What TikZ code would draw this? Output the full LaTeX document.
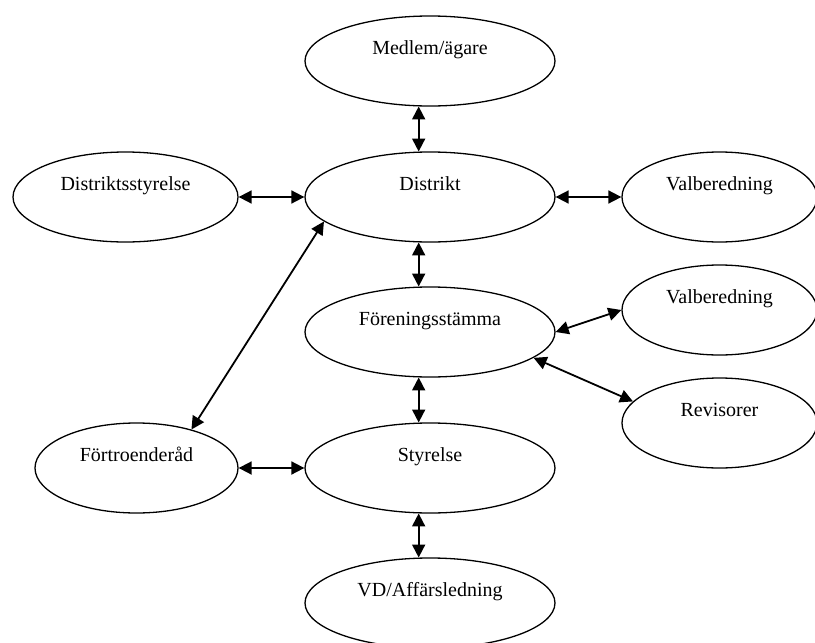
\documentclass[tikz,border=0pt]{standalone}
\usepackage{fontspec}
\setmainfont{Liberation Serif}
\usetikzlibrary{shapes.geometric,arrows.meta}

\begin{document}
\begin{tikzpicture}[x=1pt,y=-1pt,
        blob/.style={ellipse,draw,line width=1.3pt,inner sep=0pt,minimum width=250pt,minimum height=90pt,
            font=\fontsize{20}{24}\selectfont,text height=13pt,text depth=26pt},
        link/.style={{Triangle[length=13pt,width=13pt]}-{Triangle[length=13pt,width=13pt]},line width=1.8pt}]
        \useasboundingbox (0,0) rectangle (815,643);
        \clip (0,0) rectangle (815,643);
        % middle column
        \node[blob] (medlem) at (430,61) {Medlem/ägare};
        \node[blob] (distrikt) at (430,197) {Distrikt};
        \node[blob] (stamma) at (430,332) {Föreningsstämma};
        \node[blob] (styrelse) at (430,468) {Styrelse};
        \node[blob] (vd) at (430,603) {VD/Affärsledning};
        % left side
        \node[blob,minimum width=225pt] (dstyrelse) at (125.5,197) {Distriktsstyrelse};
        \node[blob,minimum width=203pt] (fortroende) at (136.5,468) {Förtroenderåd};
        % right side
        \node[blob,minimum width=195pt] (valb) at (719.5,197) {Valberedning};
        \node[blob,minimum width=195pt] (valbst) at (719.5,310) {Valberedning};
        \node[blob,minimum width=195pt] (revisorer) at (719.5,423) {Revisorer};
        \draw[link] (medlem.256) -- (distrikt.104);
        \draw[link] (distrikt.256) -- (stamma.104);
        \draw[link] (stamma.256) -- (styrelse.104);
        \draw[link] (styrelse.256) -- (vd.104);
        \draw[link] (dstyrelse.east) -- (distrikt.west);
        \draw[link] (distrikt.east) -- (valb.west);
        \draw[link] (fortroende.east) -- (styrelse.west);
        \draw[link] (fortroende.35) -- (distrikt.193);
        \draw[link] (stamma.east) -- (valbst.west);
        \draw[link] (stamma.346) -- (revisorer.166);
\end{tikzpicture}
\end{document}
